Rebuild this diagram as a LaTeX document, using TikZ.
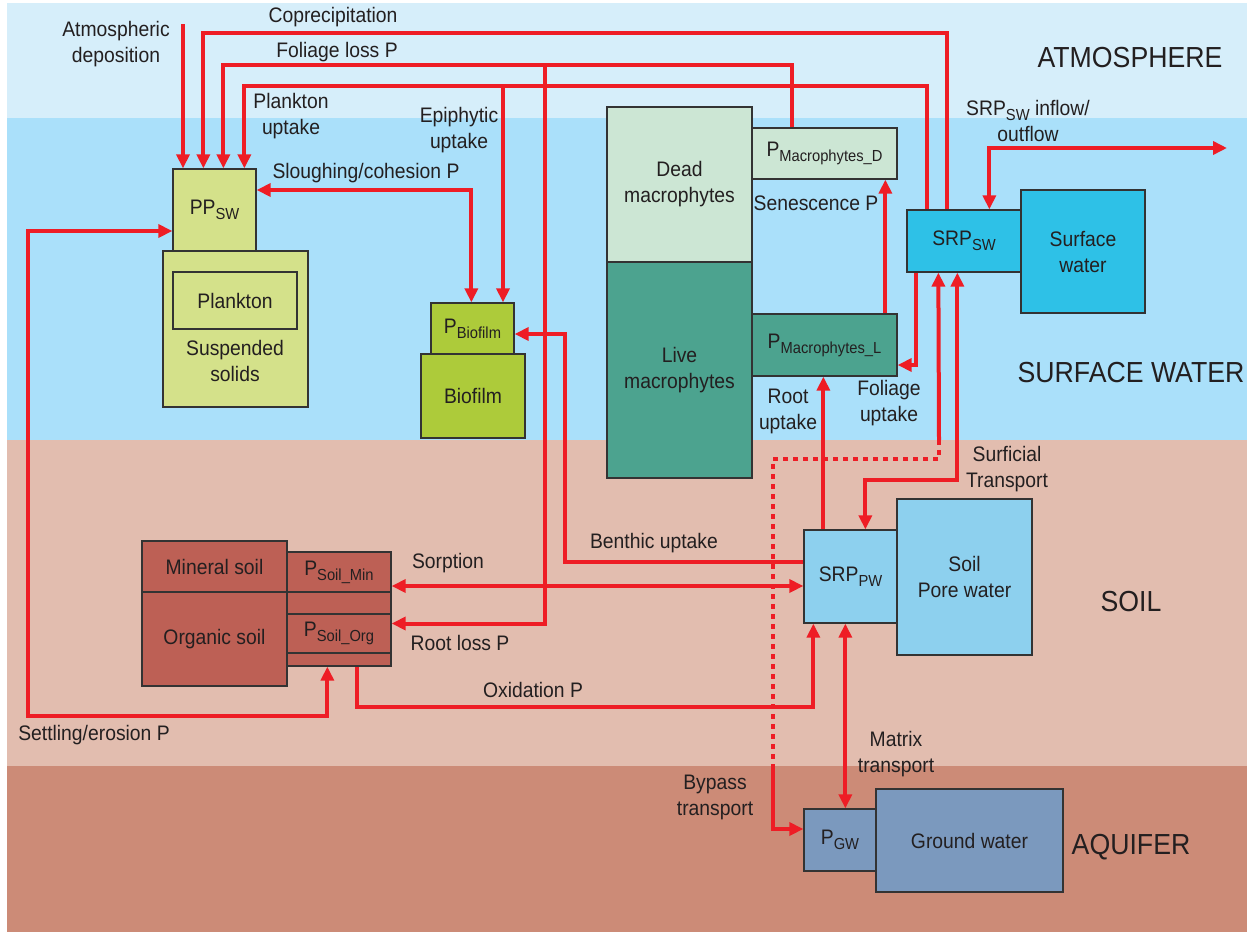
\documentclass[tikz,border=0pt]{standalone}
\usepackage{fontspec}
\setmainfont[FakeStretch=0.92]{Liberation Sans}
\usepackage{tikz}
\usetikzlibrary{arrows.meta,positioning,calc}

\definecolor{airblue}{HTML}{D6EEFA}
\definecolor{waterblue}{HTML}{AAE0FA}
\definecolor{soilpink}{HTML}{E2BDAF}
\definecolor{aquibrown}{HTML}{CC8B77}
\definecolor{flowred}{HTML}{EE1D25}
\definecolor{edgegray}{HTML}{333333}
\definecolor{inkgray}{HTML}{231F20}
\definecolor{plankgreen}{HTML}{D4E18A}
\definecolor{biogreen}{HTML}{ADCB3A}
\definecolor{deadgreen}{HTML}{CCE6D4}
\definecolor{livegreen}{HTML}{4CA38F}
\definecolor{swcyan}{HTML}{2EC1E7}
\definecolor{pwblue}{HTML}{8DD0EE}
\definecolor{gwblue}{HTML}{7B99BE}
\definecolor{soilred}{HTML}{BD6055}

\newcommand{\labfont}{\fontsize{21}{26}\selectfont}
\newcommand{\zonefont}{\fontsize{29}{34}\selectfont}
\newcommand{\sub}[1]{\raisebox{-5pt}{\fontsize{16}{16}\selectfont #1}}

\begin{document}
\begin{tikzpicture}[x=1pt, y=-1pt, >={Triangle[length=14pt,width=13pt]},
    flow/.style={draw=flowred, line width=4pt},
    box/.style={draw=edgegray, line width=1.3pt, inner sep=0pt, align=center, text=inkgray, font=\labfont},
    lbl/.style={align=center, text=inkgray, font=\labfont, inner sep=0pt},
    zone/.style={text=inkgray, font=\zonefont, inner sep=0pt}]
    \useasboundingbox (0,0) rectangle (1247,932);

    % layers
    \fill[airblue] (7,3) rectangle (1247,118);
    \fill[waterblue] (7,118) rectangle (1247,440);
    \fill[soilpink] (7,440) rectangle (1247,766);
    \fill[aquibrown] (7,766) rectangle (1247,932);
    \node[zone] (atmz) at (1130,58) {ATMOSPHERE};
    \node[zone] (swz) at (1131,373) {SURFACE WATER};
    \node[zone] (soilz) at (1131,602) {SOIL};
    \node[zone] (aqz) at (1131,847) {AQUIFER};

    % pools
    \node[box, fill=plankgreen, minimum width=83pt, minimum height=82pt] (ppsw) at (214.5,210) {PP\sub{SW}};
    \node[box, fill=plankgreen, minimum width=145pt, minimum height=156pt] (susp) at (235.5,329) {};
    \node[box, fill=plankgreen, minimum width=124pt, minimum height=57pt] (plank) at (235,300.5) {Plankton};
    \node[lbl] (susplbl) at (235,361) {Suspended\\solids};
    \node[box, fill=biogreen, minimum width=83pt, minimum height=51pt] (pbio) at (472.5,328.5) {P\sub{Biofilm}};
    \node[box, fill=biogreen, minimum width=104pt, minimum height=84pt] (bio) at (473,396) {Biofilm};
    \node[box, fill=deadgreen, minimum width=145pt, minimum height=155pt] (dead) at (679.5,184.5) {Dead\\macrophytes};
    \node[box, fill=livegreen, minimum width=145pt, minimum height=216pt] (live) at (679.5,370) {Live\\macrophytes};
    \node[box, fill=deadgreen, minimum width=145pt, minimum height=51pt] (pmd) at (824.5,153.5) {P\sub{Macrophytes\_D}};
    \node[box, fill=livegreen, minimum width=145pt, minimum height=62pt] (pml) at (824.5,345) {P\sub{Macrophytes\_L}};
    \node[box, fill=swcyan, minimum width=114pt, minimum height=62pt] (srpsw) at (964,241) {SRP\sub{SW}};
    \node[box, fill=swcyan, minimum width=124pt, minimum height=123pt] (sw) at (1083,251.5) {Surface\\water};
    \node[box, fill=pwblue, minimum width=93pt, minimum height=93pt] (srppw) at (850.5,576.5) {SRP\sub{PW}};
    \node[box, fill=pwblue, minimum width=135pt, minimum height=156pt] (pore) at (964.5,577) {Soil\\Pore water};
    \node[box, fill=gwblue, minimum width=72pt, minimum height=62pt] (pgw) at (840,840) {P\sub{GW}};
    \node[box, fill=gwblue, minimum width=187pt, minimum height=103pt] (gw) at (969.5,840.5) {Ground water};
    \node[box, fill=soilred, minimum width=145pt, minimum height=51pt] (mineral) at (214.5,566.5) {Mineral soil};
    \node[box, fill=soilred, minimum width=145pt, minimum height=94pt] (organic) at (214.5,639) {Organic soil};
    \node[box, fill=soilred, minimum width=104pt, minimum height=114pt] (pcol) at (339,609) {};
    \node[box, fill=soilred, minimum width=104pt, minimum height=40pt] (psmin) at (339,572) {P\sub{Soil\_Min}};
    \node[box, fill=soilred, minimum width=104pt, minimum height=39pt] (psorg) at (339,633.5) {P\sub{Soil\_Org}};

    % free ends and splits
    \coordinate (atmsrc) at (183,24);
    \coordinate (rlsplit) at (545,66);
    \coordinate (episplit) at (503,87);
    \coordinate (settle) at (28,716);
    \coordinate (byp1) at (939,440);
    \coordinate (byp2) at (773,767);
    \coordinate (outflow) at (1227,148);

    % fluxes
    \draw[flow,->] (atmsrc) -- (atmsrc |- ppsw.north);
    \draw[flow,->] ([xshift=41pt]srpsw.north west) -- ++(0,-176) -| ([xshift=31pt]ppsw.north west);
    \draw[flow,->] ([xshift=41pt]pmd.north west) -- ++(0,-62) -| ([xshift=51pt]ppsw.north west);
    \draw[flow,->] (rlsplit) |- ([yshift=10pt]psorg.east);
    \draw[flow,->] ([xshift=21pt]srpsw.north west) -- ++(0,-123) -| ([xshift=72pt]ppsw.north west);
    \draw[flow,->] (episplit) -- (episplit |- pbio.north);
    \draw[flow,<->] ([yshift=20pt]ppsw.east) -| ([xshift=41pt]pbio.north west);
    \draw[flow,<->] ([yshift=-21pt]ppsw.west) -| (settle) -| ([xshift=41pt]pcol.south west);
    \draw[flow,->] ([xshift=71pt]pcol.south west) -- ++(0,40) -| ([xshift=10pt]srppw.south west);
    \draw[flow,<->] ([yshift=-14pt]psmin.east) -- ([yshift=-9.5pt]srppw.west);
    \draw[flow,->] ([yshift=14.5pt]srppw.west) -- ++(-238,0) |- ([yshift=-5.5pt]pbio.east);
    \draw[flow,->] ([xshift=20pt]srppw.north west) -- ([xshift=72pt]pml.south west);
    \draw[flow,->] ([xshift=134pt]pml.north west) -- ([xshift=134pt]pmd.south west);
    \draw[flow,->] ([xshift=10pt]srpsw.south west) |- ([yshift=-20pt]pml.east);
    \draw[flow,<->] ([xshift=51pt]srpsw.south west) -- ++(0,207) -| ([xshift=62pt]srppw.north west);
    \draw[flow,<-] ([xshift=32pt]srpsw.south west) -- (byp1);
    \draw[flow,dash pattern=on 5pt off 5pt] (byp1) -- ++(0,19) -| (byp2);
    \draw[flow,->] (byp2) |- ([yshift=11pt]pgw.west);
    \draw[flow,<->] ([xshift=42pt]srppw.south west) -- ([xshift=42pt]pgw.north west);
    \draw[flow,<->] ([xshift=83pt]srpsw.north west) |- (outflow);

    % flux labels
    \node[lbl] (atmlbl) at (116,44) {Atmospheric\\deposition};
    \node[lbl] (coplbl) at (333,17) {Coprecipitation};
    \node[lbl] (follbl) at (337,52) {Foliage loss P};
    \node[lbl] (plklbl) at (291,116) {Plankton\\uptake};
    \node[lbl] (epilbl) at (459,130) {Epiphytic\\uptake};
    \node[lbl] (slolbl) at (366,173) {Sloughing/cohesion P};
    \node[lbl] (senlbl) at (816,203) {Senescence P};
    \node[lbl] (inflbl) at (1028,121) {SRP\sub{SW} inflow/\\outflow};
    \node[lbl] (rootlbl) at (788,411) {Root\\uptake};
    \node[lbl] (fuplbl) at (889,403) {Foliage\\uptake};
    \node[lbl] (surflbl) at (1007,469) {Surficial\\Transport};
    \node[lbl] (benlbl) at (654,543) {Benthic uptake};
    \node[lbl] (sorlbl) at (448,563) {Sorption};
    \node[lbl] (rllbl) at (460,643) {Root loss P};
    \node[lbl] (oxlbl) at (533,690) {Oxidation P};
    \node[lbl] (setlbl) at (94,735) {Settling/erosion P};
    \node[lbl] (matlbl) at (896,754) {Matrix\\transport};
    \node[lbl] (byplbl) at (715,797) {Bypass\\transport};
\end{tikzpicture}
\end{document}
